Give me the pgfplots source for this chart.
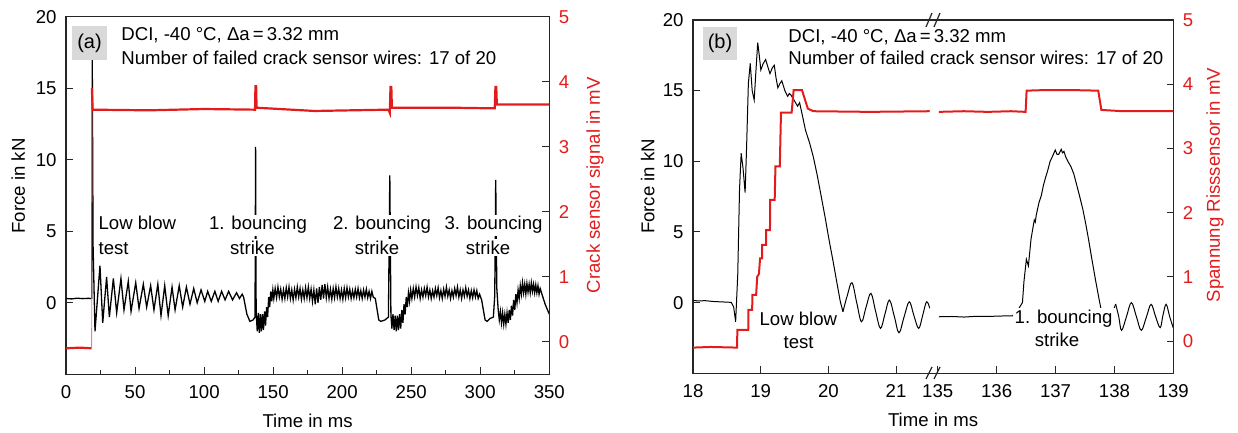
\documentclass[border=0pt]{standalone}
\usepackage{fontspec}
\setmainfont{Liberation Sans}
\usepackage{pgfplots}
\pgfplotsset{compat=1.18}
\definecolor{cred}{RGB}{226,28,28}
\definecolor{boxgray}{RGB}{217,217,217}
\newcommand{\fs}{\fontsize{9.3}{11}\selectfont}
\pgfplotsset{
  base/.style={
    scale only axis, anchor=south west,
    /pgf/number format/assume math mode=true,
    tick label style={font=\fs},
    label style={font=\fs},
    major tick length=3.4pt, minor tick length=2.2pt,
    tick style={black!85, line width=0.5pt},
    axis line style={black!85, line width=0.6pt},
  },
}
\begin{document}
\begin{tikzpicture}
\path[use as bounding box] (0,0) rectangle (619pt,216.5pt);
% ===== Panel (a) left axis =====
\begin{axis}[base, at={(33pt,29.35pt)}, width=241.65pt, height=178.8pt,
  xmin=0, xmax=350, ymin=-5, ymax=20,
  xtick={0,50,...,350}, minor x tick num=1,
  ytick={0,5,10,15,20},
  xtick pos=bottom, ytick pos=left,
  xticklabel style={yshift=-2.2pt},
  yticklabel style={xshift=-1.2pt},
  xlabel={Time in ms}, ylabel={Force in kN},
  xlabel style={at={(axis description cs:0.5,0)}, anchor=base, yshift=-26.4pt},
  ylabel style={at={(axis description cs:-0.099,0.527)}, anchor=center},
]
\addplot[black, line width=0.65pt] table {
0 0.30
4 0.27
8 0.32
12 0.29
16 0.31
18.6 0.30
19.0 17.5
19.6 4.0
21.0 -2.0
24.6 2.6
26.6 -1.4
29.4 1.8
31.4 -1.0
34.3 1.7
36.7 -0.7
39.8 1.7
42.0 -0.5
45.1 1.5
47.1 -0.6
50.5 1.4
52.9 -0.4
56.0 1.3
58.4 -0.3
61.3 1.2
63.7 -0.5
66.5 1.3
68.8 -0.9
71.5 1.2
74.0 -0.9
76.8 1.1
79.0 -0.5
82.0 1.2
84.5 -0.3
87.2 1.1
89.8 -0.1
92.5 1.0
95.0 0.0
97.8 0.9
100.5 0.1
102.6 0.8
105.2 0.1
107.8 0.8
110.2 0.1
112.7 0.8
115.2 0.2
117.8 0.8
120.6 0.2
123.5 0.7
125.6 0.3
127.6 0.6
128.6 0.4
131.0 -0.8
133.2 -1.3
135.5 -1.2
136.9 -1.0
137.3 10.9
137.7 -0.6
138.5 -2.0
139.3 -0.7
140.0 -2.1
140.8 -0.8
141.5 -2.0
142.3 -0.8
143.0 -1.9
143.8 -0.6
144.5 -1.6
145.3 -0.3
146.0 -1.0
146.8 0.4
147.5 -0.3
148.3 0.8
149.0 0.1
149.8 0.9
150.5 0.3
151.5 1.0
152.5 0.35
153.5 1.1
154.5 0.4
155.5 0.95
156.5 0.25
157.5 0.9
158.5 0.3
159.5 1.05
160.5 0.4
161.5 1.1
162.5 0.3
163.5 0.9
164.5 0.2
165.5 0.95
166.5 0.35
167.5 1.1
168.5 0.4
169.5 1.0
170.5 0.25
171.5 0.9
172.5 0.3
173.5 1.05
174.5 0.35
175.5 1.1
176.5 0.3
177.5 0.95
178.5 0.1
179.5 0.9
180.5 -0.1
181.5 1.0
182.5 0.0
183.5 1.1
184.5 0.2
185.5 1.25
186.5 0.3
187.5 1.3
188.5 0.35
189.5 1.1
190.5 0.3
191.5 0.95
192.5 0.25
193.5 1.0
194.5 0.35
195.5 1.1
196.5 0.4
197.5 1.0
198.5 0.3
199.5 0.9
200.5 0.25
201.5 1.0
202.5 0.35
203.5 1.05
204.5 0.4
205.5 0.95
206.5 0.3
207.5 0.85
208.5 0.35
209.5 0.95
210.5 0.4
211.5 1.0
212.5 0.35
213.5 0.85
214.5 0.3
215.5 0.9
216.5 0.4
217.5 0.95
218.5 0.35
219.5 0.8
220.5 0.3
221.5 0.8
222.5 0.4
224.0 0.3
226.5 -1.2
228.0 -1.3
231.0 -1.2
233.5 -1.0
234.5 8.9
235.3 -0.8
236.0 -1.8
236.8 -0.8
237.6 -1.9
238.4 -0.9
239.2 -2.0
240.0 -0.9
240.8 -1.9
241.6 -0.8
242.4 -1.8
243.2 -0.5
244.0 -1.4
244.8 -0.1
245.6 -0.8
246.4 0.4
247.2 -0.3
248.0 0.7
248.8 0.1
249.6 0.9
250.5 0.3
251.5 1.0
252.5 0.4
253.5 1.1
254.5 0.5
255.5 1.05
256.5 0.3
257.5 0.9
258.5 0.4
259.5 1.0
260.5 0.5
261.5 1.1
262.5 0.4
263.5 0.9
264.5 0.3
265.5 0.85
266.5 0.4
267.5 1.0
268.5 0.5
269.5 1.05
270.5 0.35
271.5 0.85
272.5 0.3
273.5 0.95
274.5 0.45
275.5 1.1
276.5 0.45
277.5 0.9
278.5 0.3
279.5 0.85
280.5 0.4
281.5 1.0
282.5 0.5
283.5 1.1
284.5 0.4
285.5 0.9
286.5 0.3
287.5 0.9
288.5 0.45
289.5 1.05
290.5 0.45
291.5 0.9
292.5 0.3
293.5 0.85
294.5 0.35
295.5 0.9
296.5 0.4
297.5 0.85
298.5 0.3
299.5 0.6
301.0 0.2
303.5 -1.2
305.0 -1.3
307.0 -1.1
309.5 -1.0
310.5 0.5
311.2 8.6
312.0 1.0
313.0 -0.5
313.8 -1.2
314.6 -0.6
315.4 -1.4
316.2 -0.7
317.0 -1.5
317.8 -0.8
318.6 -1.5
319.4 -0.7
320.2 -1.4
321.0 -0.5
321.8 -1.2
322.6 -0.2
323.4 -0.9
324.2 0.2
325.0 -0.5
325.8 0.6
326.6 0.0
327.4 0.9
328.2 0.3
329.0 1.2
329.8 0.6
330.6 1.4
331.4 0.7
332.2 1.3
333.0 0.6
333.8 1.35
334.6 0.75
335.4 1.3
336.2 0.7
337.0 1.4
337.8 0.8
338.6 1.3
339.4 0.7
340.2 1.25
341.0 0.7
341.8 1.2
342.6 0.6
343.4 1.0
345.0 0.5
347.0 -0.1
350.0 -0.8
};
\end{axis}
% ===== Panel (a) right axis =====
\begin{axis}[base, at={(33pt,29.35pt)}, width=241.65pt, height=178.8pt,
  xmin=0, xmax=350, ymin=-0.5, ymax=5,
  axis x line=none, axis y line*=right,
  ytick={0,1,2,3,4,5},
  yticklabel style={text=cred, xshift=1.3pt},
  ylabel={Crack sensor signal in mV},
  ylabel style={text=cred, at={(axis description cs:1.0946,0.529)}, anchor=center},
]
\addplot[cred, line width=1.1pt] table {
0 -0.10
10 -0.09
18.6 -0.10
};
\addplot[cred!55, line width=0.45pt] table {
18.6 -0.10
18.75 3.90
};
\addplot[cred, line width=1.1pt] table {
18.75 3.90
19.3 3.57
60 3.56
100 3.58
136.9 3.57
137.2 3.93
137.7 3.93
138.0 3.60
180 3.55
233.5 3.57
234.5 3.52
235.0 3.92
235.6 3.92
236.0 3.60
280 3.60
310.5 3.59
311.0 3.92
311.6 3.92
312.0 3.65
350 3.65
};
\end{axis}
% ===== Panel (b) left axis =====
\begin{axis}[base, at={(346.5pt,29.85pt)}, width=240.15pt, height=176.65pt,
  xmin=0, xmax=8.156, ymin=-5, ymax=20,
  xtick={0,1.149,2.299,3.448,4.156,5.156,6.156,7.156,8.156},
  xticklabels={18,19,20,21,135,136,137,138,139},
  ytick={0,5,10,15,20},
  xtick pos=bottom, ytick pos=left,
  xticklabel style={yshift=-2.2pt},
  yticklabel style={xshift=-1.2pt},
  xlabel={Time in ms}, ylabel={Force in kN},
  xlabel style={at={(axis description cs:0.5,0)}, anchor=base, yshift=-26.85pt},
  ylabel style={at={(axis description cs:-0.0945,0.529)}, anchor=center},
]
\addplot[black, line width=0.5pt] table {
0 0.15
0.10 0.12
0.20 0.14
0.35 0.08
0.50 0.05
0.65 0.02
0.69 -0.3
0.724 -1.35
0.76 2.0
0.79 8.0
0.818 10.57
0.85 9.5
0.885 7.78
0.91 11.0
0.94 15.5
0.972 16.93
1.005 15.0
1.039 14.34
1.07 16.5
1.099 18.4
1.125 17.5
1.152 16.46
1.19 16.9
1.233 17.2
1.27 16.7
1.307 16.2
1.345 16.6
1.380 16.8
1.41 15.9
1.441 15.2
1.475 15.5
1.508 15.7
1.56 15.0
1.608 14.6
1.635 14.8
1.662 14.7
1.72 14.3
1.776 13.9
1.810 14.15
1.86 13.2
1.910 12.2
1.98 11.3
2.044 10.3
2.11 9.0
2.178 7.5
2.245 6.0
2.312 4.4
2.38 2.9
2.445 1.37
2.50 0.1
2.546 -0.64
};
\addplot[black, line width=0.5pt, smooth, tension=0.6] table {
2.546 -0.64
2.62 0.5
2.699 1.41
2.78 0.0
2.860 -1.35
2.94 -0.3
3.021 0.66
3.10 -0.6
3.183 -1.82
3.26 -0.8
3.336 0.18
3.42 -1.0
3.498 -2.13
3.585 -1.0
3.672 0.06
3.75 -0.9
3.832 -1.82
3.90 -0.9
3.966 0.06
4.020 -0.4
};
\addplot[black, line width=0.5pt] table {
4.174 -1.0
4.4 -0.98
4.6 -1.02
4.8 -0.97
5.0 -0.98
5.2 -0.95
5.428 -0.93
5.52 -0.5
5.594 0.0
5.62 1.5
5.661 3.07
5.695 2.6
5.74 4.5
5.795 5.85
5.812 5.7
5.829 6.2
5.876 7.1
5.916 7.6
5.95 8.3
5.983 8.8
6.02 9.3
6.064 10.0
6.11 10.4
6.151 10.8
6.18 10.5
6.211 10.5
6.252 10.85
6.275 10.6
6.299 10.7
6.33 10.3
6.366 10.0
6.42 9.6
6.467 9.1
6.517 8.3
6.567 7.5
6.62 6.6
6.668 5.6
6.72 4.4
6.768 3.2
6.835 1.6
6.902 0.1
6.95 -0.9
7.02 -1.5
7.10 -1.0
7.177 -0.1
};
\addplot[black, line width=0.5pt, smooth, tension=0.6] table {
7.177 -0.1
7.23 -1.0
7.277 -1.96
7.36 -1.0
7.444 0.0
7.53 -1.0
7.612 -1.96
7.70 -1.0
7.779 -0.12
7.856 -1.0
7.933 -1.77
7.98 -0.9
8.034 -0.12
8.095 -1.0
8.156 -1.8
};
\end{axis}
% ===== Panel (b) right axis =====
\begin{axis}[base, at={(346.5pt,29.85pt)}, width=240.15pt, height=176.65pt,
  xmin=0, xmax=8.156, ymin=-0.5, ymax=5,
  axis x line=none, axis y line*=right,
  ytick={0,1,2,3,4,5},
  yticklabel style={text=cred, xshift=1.3pt},
  ylabel={Spannung Risssensor in mV},
  ylabel style={text=cred, at={(axis description cs:1.0868,0.533)}, anchor=center},
]
\addplot[cred, line width=1.0pt] table {
0 -0.10
0.3 -0.09
0.750 -0.10
0.752 0.175
0.938 0.175
0.942 0.487
1.005 0.487
1.008 0.72
1.072 0.72
1.09 1.0
1.12 1.05
1.139 1.29
1.172 1.29
1.175 1.50
1.240 1.50
1.243 1.73
1.307 1.73
1.31 2.20
1.387 2.20
1.40 2.72
1.474 2.72
1.494 3.56
1.675 3.56
1.709 3.91
1.85 3.91
1.95 3.62
2.044 3.58
3.0 3.57
4.02 3.58
};
\addplot[cred, line width=1.0pt] table {
4.174 3.57
4.6 3.58
5.0 3.57
5.4 3.58
5.648 3.57
5.665 3.90
6.0 3.91
6.4 3.91
6.881 3.90
6.935 3.60
7.3 3.58
7.7 3.58
8.156 3.58
};
\end{axis}
% ===== annotations =====
\begin{scope}[every node/.style={font=\fs, inner sep=0pt}]
% panel (a)
\fill[boxgray] (36pt,186.5pt) rectangle (53.5pt,203.5pt);
\node[font=\fontsize{10}{12}\selectfont] at (44.75pt,195pt) {(a)};
\node[anchor=base west] at (60.5pt,196pt) {DCI, -40 °C, Δa\,=\,3.32 mm};
\node[anchor=base west] at (60.5pt,184pt) {Number of failed crack sensor wires: 17 of 20};
\begin{scope}[every node/.append style={fill=white, inner sep=1pt}]
\node[anchor=base west] at (48.1pt,101.5pt) {Low blow};
\node[anchor=base west] at (48.1pt,89.35pt) {test};
\node[anchor=base] at (129pt,101.5pt) {1. bouncing};
\node[anchor=base] at (126.2pt,89.35pt) {strike};
\node[anchor=base] at (191pt,101.5pt) {2. bouncing};
\node[anchor=base] at (188.5pt,89.35pt) {strike};
\node[anchor=base] at (246.8pt,101.5pt) {3. bouncing};
\node[anchor=base] at (244pt,89.35pt) {strike};
% panel (b)
\node[anchor=base] at (399.2pt,53.5pt) {Low blow};
\node[anchor=base] at (399.3pt,42.35pt) {test};
\node[anchor=base] at (531.8pt,54.85pt) {1. bouncing};
\node[anchor=base] at (528.5pt,43.15pt) {strike};
\end{scope}
\fill[boxgray] (351.5pt,186.5pt) rectangle (368.5pt,203pt);
\node[font=\fontsize{10}{12}\selectfont] at (360pt,194.8pt) {(b)};
\node[anchor=base west] at (394pt,195.15pt) {DCI, -40 °C, Δa\,=\,3.32 mm};
\node[anchor=base west] at (394pt,184pt) {Number of failed crack sensor wires: 17 of 20};
\end{scope}
% axis break marks
\begin{scope}[black!85, line width=0.6pt]
\draw (463pt,27pt) -- (466pt,33pt);
\draw (467pt,27pt) -- (470pt,33pt);
\draw (463pt,203pt) -- (466pt,210pt);
\draw (467pt,203pt) -- (470pt,210pt);
\end{scope}
\end{tikzpicture}
\end{document}
